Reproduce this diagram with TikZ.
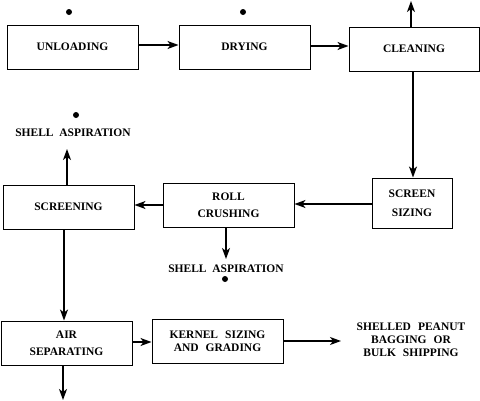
\documentclass[tikz,border=0pt]{standalone}
\usepackage{fontspec}
\setmainfont{Liberation Serif}
\usetikzlibrary{arrows.meta}
\newcommand{\wsp}{\hspace{7pt}}
\begin{document}
\begin{tikzpicture}[x=1pt,y=-1pt,
  box/.style={draw,line width=1pt,minimum width=131pt,minimum height=44pt,inner sep=1pt,align=center,font=\fontsize{11.5}{17}\selectfont\bfseries},
  lbl/.style={inner sep=1pt,align=center,font=\fontsize{11.5}{13}\selectfont\bfseries},
  dot/.style={circle,fill=black,inner sep=0pt,minimum size=6pt},
  arr/.style={line width=1.2pt,-{Stealth[length=11pt,width=8pt,inset=3pt]}}]
\useasboundingbox (0,0) rectangle (480,400);
% boxes
\node[box] (unl) at (72.5,47) {UNLOADING};
\node[box] (dry) at (244.5,47) {DRYING};
\node[box,minimum width=130pt] (cle) at (414,49) {CLEANING};
\node[box,minimum width=80pt,minimum height=50pt,font=\fontsize{11.5}{19}\selectfont\bfseries] (ss) at (412,203) {SCREEN\\SIZING};
\node[box] (roll) at (228.5,205) {ROLL\\CRUSHING};
\node[box] (scr) at (68.5,207) {SCREENING};
\node[box] (air) at (66.5,343) {AIR\\SEPARATING};
\node[box,font=\fontsize{11.5}{13}\selectfont\bfseries] (ker) at (217.5,341) {KERNEL\wsp SIZING\\AND\wsp GRADING};
% labels
\node[lbl] (sa1) at (73,133) {SHELL\ \ ASPIRATION};
\node[lbl] (sa2) at (226,269) {SHELL\ \ ASPIRATION};
\node[lbl] (out) at (411,340) {SHELLED\wsp PEANUT\\BAGGING\wsp OR\\BULK\wsp SHIPPING};
% dots
\node[dot] (d1) at (69,12) {};
\node[dot] (d2) at (243,12) {};
\node[dot] (d3) at (76,115) {};
\node[dot] (d4) at (225,279) {};
% free ends
\coordinate (cleup) at (411,1);
\coordinate (scrup) at (67,149);
\coordinate (rolldn) at (226,259);
\coordinate (kend) at (341,341);
\coordinate (airdn) at (63,400);
% connectors
\draw[arr] (unl.east |- 0,45) -- (dry.west |- 0,45);
\draw[arr] (dry.east |- 0,46) -- (cle.west |- 0,46);
\draw[arr] (cle.north -| cleup) -- (cleup);
\draw[arr] (cle.south -| 413,0) -- (ss.north -| 413,0);
\draw[arr] (ss.west |- 0,204) -- (roll.east |- 0,204);
\draw[arr] (roll.west) -- (roll.west -| scr.east);
\draw[arr] (scr.north -| scrup) -- (scrup);
\draw[arr] (roll.south -| rolldn) -- (rolldn);
\draw[arr] (scr.south -| 64,0) -- (air.north -| 64,0);
\draw[arr] (air.east |- 0,342) -- (ker.west |- 0,342);
\draw[arr] (ker.east) -- (kend);
\draw[arr] (air.south -| airdn) -- (airdn);
\end{tikzpicture}
\end{document}
